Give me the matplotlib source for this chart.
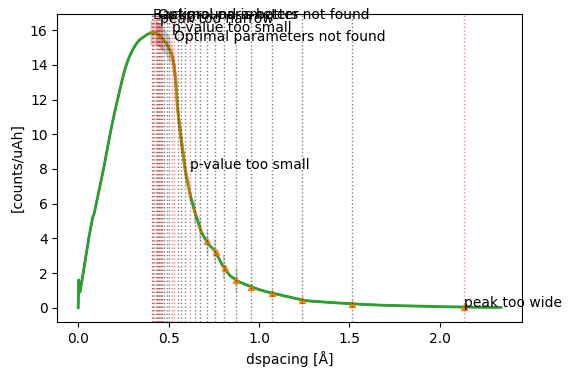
import numpy as np
import matplotlib
matplotlib.use('Agg')
import matplotlib.pyplot as plt

dspacing = [0.000, 0.003, 0.010, 0.020, 0.040, 0.060, 0.080, 0.090, 0.100, 0.120,
            0.140, 0.160, 0.180, 0.200, 0.220, 0.240, 0.260, 0.280, 0.300, 0.320,
            0.340, 0.360, 0.380, 0.400, 0.410, 0.420, 0.430, 0.440, 0.450, 0.460,
            0.470, 0.480, 0.490, 0.500, 0.510, 0.520, 0.530, 0.540, 0.550, 0.560,
            0.570, 0.580, 0.590, 0.600, 0.610, 0.620, 0.630, 0.640, 0.650, 0.660,
            0.670, 0.680, 0.690, 0.700, 0.710, 0.720, 0.730, 0.740, 0.750, 0.760,
            0.770, 0.780, 0.790, 0.800, 0.810, 0.820, 0.840, 0.860, 0.870, 0.880,
            0.900, 0.930, 0.957, 1.000, 1.050, 1.070, 1.100, 1.150, 1.200, 1.236,
            1.250, 1.300, 1.400, 1.513, 1.600, 1.700, 1.800, 1.900, 2.000, 2.100,
            2.135, 2.200, 2.338]
counts = [0.00, 1.60, 0.90, 1.50, 2.80, 4.10, 5.20, 5.50, 6.00, 7.00,
          8.00, 9.10, 10.20, 11.20, 12.10, 13.00, 13.80, 14.40, 14.85, 15.20,
          15.45, 15.60, 15.75, 15.85, 15.80, 15.85, 15.85, 15.80, 15.70, 15.60,
          15.45, 15.35, 15.20, 15.00, 14.80, 14.50, 14.00, 13.00, 11.50, 10.50,
          9.70, 8.90, 8.10, 7.50, 7.00, 6.50, 6.10, 5.70, 5.35, 5.05,
          4.70, 4.40, 4.20, 4.00, 3.85, 3.70, 3.55, 3.45, 3.35, 3.20,
          3.00, 2.80, 2.60, 2.40, 2.30, 2.10, 1.85, 1.70, 1.62, 1.55,
          1.45, 1.32, 1.21, 1.05, 0.90, 0.85, 0.78, 0.66, 0.54, 0.46,
          0.42, 0.37, 0.30, 0.23, 0.18, 0.14, 0.11, 0.09, 0.06, 0.045,
          0.04, 0.03, 0.02]

# peak positions and fit status
peaks = [0.408, 0.414, 0.421, 0.428, 0.434, 0.440, 0.446, 0.452, 0.459, 0.466,
         0.477, 0.490, 0.503, 0.517, 0.532, 0.552, 0.571, 0.592, 0.616, 0.644,
         0.675, 0.712, 0.757, 0.807, 0.872, 0.957, 1.070, 1.236, 1.513, 2.135]
failed = [0.414, 0.421, 0.428, 0.440, 0.452, 0.459, 0.517, 0.532, 0.616, 2.135]
msg_d = [0.414, 0.440, 0.452, 0.517, 0.532, 0.616, 2.135]
msg_y = [16.62, 16.62, 16.42, 15.9, 15.4, 8.0, 0.05]
msg_text = ['Background is better', 'Optimal parameters not found', 'peak too narrow',
            'p-value too small', 'Optimal parameters not found', 'p-value too small',
            'peak too wide']

d = np.array(dspacing)
y = np.array(counts)

fig = plt.figure(figsize=(5.7, 3.77), dpi=100)
ax = fig.add_axes([0.1005, 0.146, 0.8158, 0.817])

# fit windows around each peak
ok_mask = np.zeros(len(d), dtype=bool)
bad_mask = np.zeros(len(d), dtype=bool)
centre = np.zeros(len(d), dtype=bool)
for p in peaks:
    w = np.abs(d - p) <= 0.012
    centre |= np.abs(d - p) <= 0.004
    if p in failed:
        bad_mask |= w
    else:
        ok_mask |= w
ax.fill_between(d, y - 0.7, y + 0.7, where=ok_mask, color='gray', alpha=0.4, lw=0)
ax.fill_between(d, y - 0.7, y + 0.7, where=bad_mask, color='red', alpha=0.2, lw=0)

ax.plot(d, y, color='C0', lw=1.5)
ax.plot(d, y, color='C2', lw=2)
fit = np.where(ok_mask | bad_mask, y, np.nan)
ax.plot(d, fit, color='C1', lw=2.2)
ax.plot(d[centre & (d > 0.68)], y[centre & (d > 0.68)], '^', color='C1', ms=4)
ax.plot(d, y, color='C2', lw=1.2, alpha=0.6)

for p in peaks:
    c = 'red' if p in failed else 'black'
    ax.axvline(p, color=c, ls=':', lw=1, alpha=0.5)
for xd, yy, t in zip(msg_d, msg_y, msg_text):
    ax.text(xd, yy, t, fontsize=10)

ax.set_xlim(-0.1156, 2.456)
ax.set_ylim(-0.82, 16.94)
ax.set_xlabel('dspacing [Å]')
ax.set_ylabel('[counts/uAh]')

fig.savefig('out.png', dpi=100)
